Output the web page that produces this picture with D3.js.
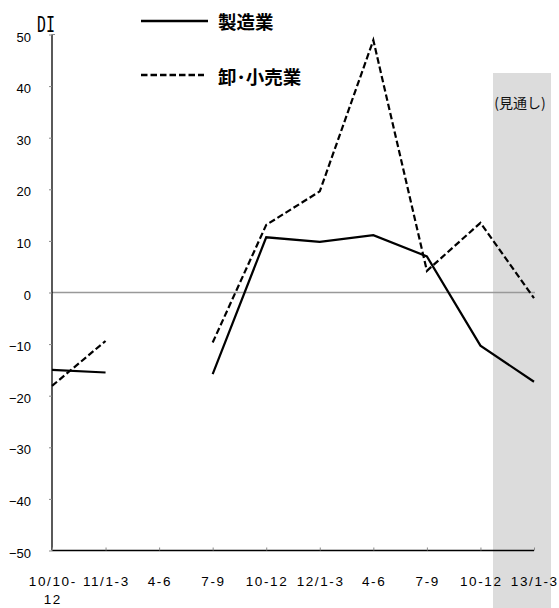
<!DOCTYPE html>
<html><head><meta charset="utf-8">
<script src="https://cdn.jsdelivr.net/npm/d3@7"></script>
<style>body{margin:0;background:#fff}svg{display:block}</style>
</head><body>
<script>
const categories = ["10/10-\n12","11/1-3","4-6","7-9","10-12","12/1-3","4-6","7-9","10-12","13/1-3"];
const manufacturing = [-15.0,-15.5,null,-15.8,10.7,9.8,11.1,7.0,-10.3,-17.3];
const wholesaleRetail = [-18.1,-9.4,null,-9.7,13.1,19.6,48.9,4.2,13.5,-1.1];
const yTicks = [50,40,30,20,10,0,-10,-20,-30,-40,-50];
const seriesNames = ["製造業","卸･小売業"];
const yTitle = "DI";
const forecastLabel = "(見通し)";

const W=559,H=608;
const svg=d3.select("body").append("svg").attr("width",W).attr("height",H);
const x=d3.scalePoint().domain(d3.range(categories.length)).range([52,534]);
const y=d3.scaleLinear().domain([-50,50]).range([550.5,34.5]);

// forecast shading
svg.append("rect").attr("x",x(9)-41).attr("y",73).attr("width",58).attr("height",H-73).attr("fill","#dcdcdc");
svg.append("text").attr("x",x(9)-14).attr("y",108).attr("text-anchor","middle")
 .attr("font-family","'Noto Sans CJK JP','Liberation Sans',sans-serif").attr("font-size",14).attr("fill","#111").text(forecastLabel);

// zero line
svg.append("line").attr("x1",52).attr("x2",535).attr("y1",y(0)).attr("y2",y(0)).attr("stroke","#999").attr("stroke-width",1.5);

// y axis
const ya=svg.append("g").attr("transform","translate(52,0)").call(d3.axisLeft(y).tickValues(yTicks).tickSize(3).tickFormat(d3.format("d")));
ya.select(".domain").attr("stroke","#000").attr("stroke-width",1.3).attr("d",`M0,${y(50)}V${y(-50)}`);
ya.selectAll(".tick line").attr("stroke","#888");
ya.selectAll(".tick text").attr("font-family","'Liberation Sans',Arial,sans-serif").attr("font-size",13).attr("fill","#000").attr("x",-21).attr("dy","0.5em");
svg.append("line").attr("x1",52).attr("x2",55).attr("y1",y(50)).attr("y2",y(50)).attr("stroke","#888");

// x axis
const xa=svg.append("g").attr("transform",`translate(0,${y(-50)})`).call(d3.axisTop(x).tickSize(3).tickFormat(""));
xa.select(".domain").attr("stroke","#000").attr("stroke-width",1.3).attr("d",`M${x(0)},0H${x(9)}`);
xa.selectAll(".tick line").attr("stroke","#888");
const lab=svg.append("g").attr("font-family","'Liberation Sans',Arial,sans-serif").attr("font-size",13.5).attr("fill","#000");
categories.forEach((c,i)=>{
  const lines=c.split("\n");
  const t=lab.append("text").attr("x",x(i)).attr("y",586).attr("text-anchor","middle").attr("letter-spacing","1.6");
  lines.forEach((l,j)=>{
    t.append("tspan").attr("x",x(i)+0.8).attr("dy",j===0?0:18).text(l);
  });
});

// y title
svg.append("text").attr("x",37).attr("y",32).attr("font-family","'DejaVu Sans Mono','Liberation Mono',monospace").attr("font-size",22)
 .attr("textLength",18).attr("lengthAdjust","spacingAndGlyphs").attr("fill","#000").text(yTitle);

// lines
const line=d3.line().defined(d=>d!=null).x((d,i)=>x(i)).y(d=>y(d));
svg.append("path").datum(wholesaleRetail).attr("d",line).attr("fill","none").attr("stroke","#000").attr("stroke-width",2.2).attr("stroke-dasharray","6.5,3");
svg.append("path").datum(manufacturing).attr("d",line).attr("fill","none").attr("stroke","#000").attr("stroke-width",2.2);

// legend
const lg=svg.append("g");
[[21,null],[75,"6.5,3"]].forEach(([ly,dash],i)=>{
  lg.append("line").attr("x1",141).attr("x2",i?204:208).attr("y1",ly).attr("y2",ly).attr("stroke","#000").attr("stroke-width",2.4).attr("stroke-dasharray",dash);
  lg.append("text").attr("x",218).attr("y",ly+(i?9:8)).attr("font-family","'Noto Sans CJK JP',sans-serif").attr("font-weight","bold").attr("font-size",18.5).attr("fill","#000").text(seriesNames[i]);
});
</script>
</body></html>
